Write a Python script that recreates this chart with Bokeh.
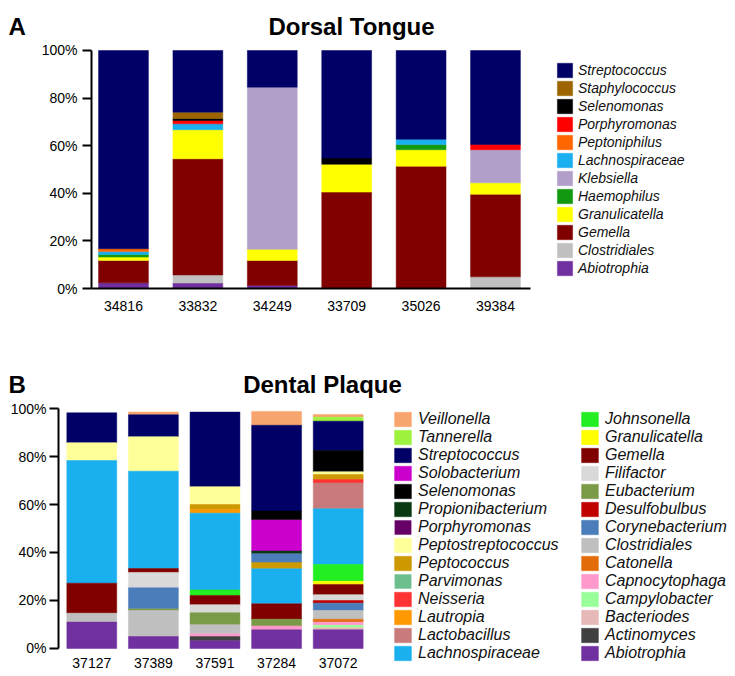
from bokeh.plotting import figure
from bokeh.models import (Range1d, Legend, LegendItem, Label,
                          FixedTicker, PrintfTickFormatter, ColumnDataSource)
from bokeh.layouts import column
from bokeh.embed import file_html
from bokeh.resources import INLINE

FONT = "Liberation Sans"

# ---------------- Panel A: Dorsal Tongue (percent per genus, per sample) -------------
TONGUE_SAMPLES = ["34816", "33832", "34249", "33709", "35026", "39384"]
Abiotrophia_T = [2.4, 2.3, 1.3, 0, 0, 0]
Clostridiales_T = [0, 3.4, 0, 0, 0, 4.9]
Gemella_T = [9.4, 48.8, 10.5, 40.5, 51.4, 34.7]
Granulicatella_T = [1.4, 12.2, 4.7, 11.7, 6.9, 4.8]
Haemophilus_T = [1.1, 0, 0, 0, 2.2, 0]
Klebsiella_T = [0, 0, 68.1, 0, 0, 13.9]
Lachnospiraceae_T = [1.2, 2.5, 0, 0, 2.2, 0]
Peptoniphilus_T = [1.2, 0, 0, 0, 0, 0]
Porphyromonas_T = [0, 1.4, 0, 0, 0, 2.2]
Selenomonas_T = [0, 0.8, 0, 2.6, 0, 0]
Staphylococcus_T = [0, 2.7, 0, 0, 0, 0]
Streptococcus_T = [83.3, 25.9, 15.4, 45.2, 37.3, 39.5]

TONGUE_STACK = ["Abiotrophia", "Clostridiales", "Gemella", "Granulicatella", "Haemophilus",
                "Klebsiella", "Lachnospiraceae", "Peptoniphilus", "Porphyromonas",
                "Selenomonas", "Staphylococcus", "Streptococcus"]
TONGUE_VALUES = [Abiotrophia_T, Clostridiales_T, Gemella_T, Granulicatella_T, Haemophilus_T,
                 Klebsiella_T, Lachnospiraceae_T, Peptoniphilus_T, Porphyromonas_T,
                 Selenomonas_T, Staphylococcus_T, Streptococcus_T]
TONGUE_COLORS = {
    "Streptococcus": "#000066", "Staphylococcus": "#9C6500", "Selenomonas": "#000000",
    "Porphyromonas": "#FF0000", "Peptoniphilus": "#FF6600", "Lachnospiraceae": "#1AAFEF",
    "Klebsiella": "#B19FC9", "Haemophilus": "#129912", "Granulicatella": "#FFFF00",
    "Gemella": "#800000", "Clostridiales": "#C0C0C0", "Abiotrophia": "#7030A0",
}

# ---------------- Panel B: Dental Plaque (per sample, stacked bottom -> top) -----------
PLAQUE_SAMPLES = ["37127", "37389", "37591", "37284", "37072"]
P37127_GENUS = ["Abiotrophia", "Clostridiales", "Gemella", "Lachnospiraceae",
                "Peptostreptococcus", "Streptococcus"]
P37127_PCT = [11.0, 3.7, 12.5, 51.1, 7.4, 12.5]
P37389_GENUS = ["Abiotrophia", "Clostridiales", "Eubacterium", "Corynebacterium", "Filifactor",
                "Gemella", "Lachnospiraceae", "Peptostreptococcus", "Streptococcus", "Veillonella"]
P37389_PCT = [5.0, 10.8, 1.0, 8.5, 6.4, 1.6, 40.6, 14.3, 9.2, 1.1]
P37591_GENUS = ["Abiotrophia", "Actinomyces", "Capnocytophaga", "Clostridiales", "Eubacterium",
                "Filifactor", "Gemella", "Johnsonella", "Lachnospiraceae", "Lautropia",
                "Peptococcus", "Peptostreptococcus", "Streptococcus"]
P37591_PCT = [3.2, 1.8, 1.1, 3.8, 5.0, 3.3, 3.9, 2.3, 32.0, 1.5, 2.1, 7.4, 31.1]
P37284_GENUS = ["Abiotrophia", "Capnocytophaga", "Eubacterium", "Gemella", "Lachnospiraceae",
                "Peptococcus", "Corynebacterium", "Propionibacterium", "Solobacterium",
                "Selenomonas", "Streptococcus", "Veillonella"]
P37284_PCT = [7.8, 1.6, 2.8, 6.4, 14.6, 2.8, 3.5, 1.1, 13.2, 3.5, 35.7, 5.8]
P37072_GENUS = ["Abiotrophia", "Bacteriodes", "Campylobacter", "Capnocytophaga", "Catonella",
                "Clostridiales", "Corynebacterium", "Desulfobulbus", "Filifactor", "Gemella",
                "Granulicatella", "Johnsonella", "Lachnospiraceae", "Lactobacillus", "Neisseria",
                "Peptococcus", "Peptostreptococcus", "Selenomonas", "Streptococcus",
                "Tannerella", "Veillonella"]
P37072_PCT = [7.8, 0.8, 1.1, 1.3, 1.2, 3.6, 3.1, 1.1, 2.4, 4.3, 1.3, 7.0, 23.2, 10.8, 1.4,
              2.1, 1.1, 8.9, 12.2, 1.7, 1.1]
PLAQUE_GENUS = [P37127_GENUS, P37389_GENUS, P37591_GENUS, P37284_GENUS, P37072_GENUS]
PLAQUE_PCT = [P37127_PCT, P37389_PCT, P37591_PCT, P37284_PCT, P37072_PCT]

PLAQUE_LEGEND_COL1 = ["Veillonella", "Tannerella", "Streptococcus", "Solobacterium", "Selenomonas",
                      "Propionibacterium", "Porphyromonas", "Peptostreptococcus", "Peptococcus",
                      "Parvimonas", "Neisseria", "Lautropia", "Lactobacillus", "Lachnospiraceae"]
PLAQUE_LEGEND_COL2 = ["Johnsonella", "Granulicatella", "Gemella", "Filifactor", "Eubacterium",
                      "Desulfobulbus", "Corynebacterium", "Clostridiales", "Catonella",
                      "Capnocytophaga", "Campylobacter", "Bacteriodes", "Actinomyces", "Abiotrophia"]
PLAQUE_COLORS = {
    "Veillonella": "#F8A46E", "Tannerella": "#9CF23E", "Streptococcus": "#000066",
    "Solobacterium": "#CC00CC", "Selenomonas": "#000000", "Propionibacterium": "#0A3A12",
    "Porphyromonas": "#660066", "Peptostreptococcus": "#FFFF99", "Peptococcus": "#CC9900",
    "Parvimonas": "#6DBE8D", "Neisseria": "#FF3333", "Lautropia": "#FF9900",
    "Lactobacillus": "#C97B7B", "Lachnospiraceae": "#1AAFEF", "Johnsonella": "#22EE22",
    "Granulicatella": "#FFFF00", "Gemella": "#800000", "Filifactor": "#D9D9D9",
    "Eubacterium": "#7A9A48", "Desulfobulbus": "#C00000", "Corynebacterium": "#4A7DBA",
    "Clostridiales": "#BFBFBF", "Catonella": "#E36C0A", "Capnocytophaga": "#FF99CC",
    "Campylobacter": "#99FF99", "Bacteriodes": "#E6B8B7", "Actinomyces": "#404040",
    "Abiotrophia": "#7030A0",
}

Y_TICKS = [0, 20, 40, 60, 80, 100]


def segments_by_genus(samples, genus_lists, pct_lists):
    segs = {}
    for i, (s, genera, pcts) in enumerate(zip(samples, genus_lists, pct_lists)):
        base = 0.0
        for g, v in zip(genera, pcts):
            if v > 0:
                d = segs.setdefault(g, {"x": [], "bottom": [], "top": [], "la": []})
                d["x"].append(i)
                d["bottom"].append(base)
                d["top"].append(base + v)
                d["la"].append(1.0)
            base += v
    return segs


def genus_source(segs, g):
    # genera absent from every bar get one empty (zero-height, no outline) row so that
    # their legend swatch is still drawn
    d = segs.get(g)
    if d is None:
        d = {"x": [0], "bottom": [0.0], "top": [0.0], "la": [0.0]}
    return ColumnDataSource(d)


def make_fig(samples, height, x_range, y_range, yaxis_x, xaxis_bounds, x_line):
    p = figure(width=735, height=height, x_range=Range1d(*x_range), y_range=Range1d(*y_range),
               output_backend="svg", toolbar_location=None, min_border=0)
    p.outline_line_color = None
    p.xgrid.visible = False
    p.ygrid.visible = False
    p.background_fill_color = "white"
    p.border_fill_color = "white"
    for ax in (p.xaxis[0], p.yaxis[0]):
        ax.major_label_text_font = FONT
        ax.major_label_text_font_size = "14px"
        ax.major_label_text_color = "black"
        ax.axis_line_color = "black"
        ax.axis_line_width = 2
        ax.minor_tick_line_color = None
    p.yaxis.fixed_location = yaxis_x
    p.yaxis.bounds = (0, 100)
    p.yaxis.ticker = FixedTicker(ticks=Y_TICKS)
    p.yaxis.formatter = PrintfTickFormatter(format="%d%%")
    p.yaxis.major_tick_out = 9
    p.yaxis.major_tick_in = 0
    p.yaxis.major_tick_line_width = 2
    p.yaxis.major_tick_line_color = "black"
    p.xaxis.fixed_location = 0
    p.xaxis.bounds = xaxis_bounds
    p.xaxis.ticker = FixedTicker(ticks=list(range(len(samples))))
    p.xaxis.major_label_overrides = {i: s for i, s in enumerate(samples)}
    p.xaxis.major_tick_line_color = None
    if not x_line:
        p.xaxis.axis_line_color = None
    return p


def make_legend(items, loc, font_size, gw, gh, standoff):
    lg = Legend(items=items, location=loc, orientation="vertical")
    lg.border_line_color = None
    lg.background_fill_alpha = 0
    lg.padding = 0
    lg.margin = 0
    lg.spacing = 0
    lg.glyph_width = gw
    lg.glyph_height = gh
    lg.label_height = 16
    lg.label_standoff = standoff
    lg.label_text_font = FONT
    lg.label_text_font_size = font_size
    lg.label_text_font_style = "italic"
    lg.label_text_color = "#111111"
    return lg


def heading(p, x, y, text, align):
    p.add_layout(Label(x=x, y=y, x_units="screen", y_units="screen", text=text,
                       text_font=FONT, text_font_size="24px", text_font_style="bold",
                       text_align=align, text_baseline="alphabetic", text_color="black"))


# ---------------- figure A ----------------
p1 = make_fig(TONGUE_SAMPLES, 338, (-1.653, 8.226), (-21.0, 121.0), -0.43, (-0.43, 5.47), True)
p1.xaxis.major_label_standoff = 6
p1.yaxis.major_label_standoff = 5

tongue_segs = segments_by_genus(
    TONGUE_SAMPLES,
    [TONGUE_STACK] * len(TONGUE_SAMPLES),
    [[vals[i] for vals in TONGUE_VALUES] for i in range(len(TONGUE_SAMPLES))])
r1 = {}
for g in TONGUE_STACK:
    c = TONGUE_COLORS[g]
    r1[g] = p1.vbar(x="x", bottom="bottom", top="top", width=0.67,
                    source=genus_source(tongue_segs, g), fill_color=c, line_color=c,
                    line_alpha="la", line_width=0.5)

p1.add_layout(make_legend([LegendItem(label=g, renderers=[r1[g]]) for g in reversed(TONGUE_STACK)],
                          (555, 61), "14px", 19, 18, 4))
heading(p1, 8, 312, "A", "left")
heading(p1, 351, 312, "Dorsal Tongue", "center")

# ---------------- figure B ----------------
p2 = make_fig(PLAQUE_SAMPLES, 338, (-1.482, 10.45), (-11.67, 129.17), -0.541, (-0.541, 4.6), False)
p2.xaxis.major_label_standoff = 4
p2.yaxis.major_label_standoff = 3

plaque_segs = segments_by_genus(PLAQUE_SAMPLES, PLAQUE_GENUS, PLAQUE_PCT)
r2 = {}
for g in PLAQUE_LEGEND_COL1 + PLAQUE_LEGEND_COL2:
    c = PLAQUE_COLORS[g]
    r2[g] = p2.vbar(x="x", bottom="bottom", top="top", width=0.81,
                    source=genus_source(plaque_segs, g), fill_color=c, line_color=c,
                    line_alpha="la", line_width=0.5)

p2.add_layout(make_legend([LegendItem(label=g, renderers=[r2[g]]) for g in PLAQUE_LEGEND_COL1],
                          (392, 14), "16px", 21, 18, 5))
p2.add_layout(make_legend([LegendItem(label=g, renderers=[r2[g]]) for g in PLAQUE_LEGEND_COL2],
                          (579, 14), "16px", 21, 18, 5))
heading(p2, 8, 292, "B", "left")
heading(p2, 322, 292, "Dental Plaque", "center")

layout = column(p1, p2, spacing=0)
open("out.html", "w").write(file_html(layout, INLINE))
